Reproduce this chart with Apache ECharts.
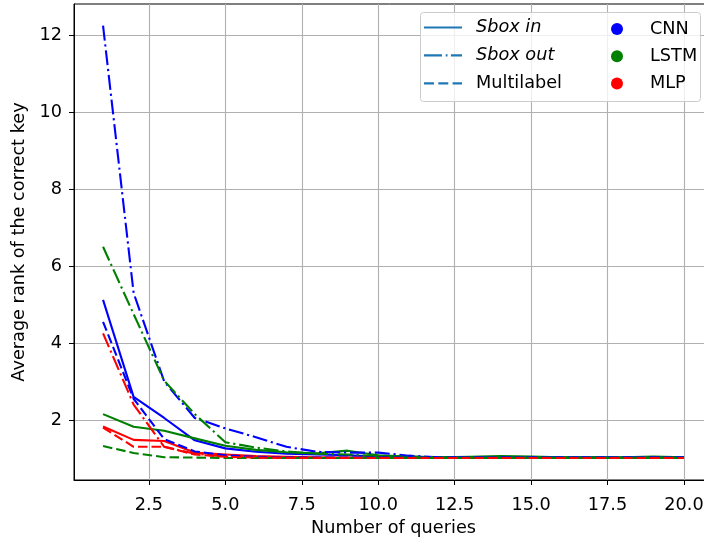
<!DOCTYPE html>
<html>
<head>
<meta charset="utf-8">
<script src="https://cdn.jsdelivr.net/npm/echarts@6/dist/echarts.min.js"></script>
<style>html,body{margin:0;padding:0;background:#fff}#c{width:704px;height:538px}</style>
</head>
<body>
<div id="c"></div>
<script>
// ---- data ----
const queries = [1,2,3,4,5,6,7,8,9,10,11,12,13,14,15,16,17,18,19,20];
const xTicks = [2.5,5,7.5,10,12.5,15,17.5,20];
const yTicks = [2,4,6,8,10,12];

const cnnSboxIn   = [5.12,2.6,2.05,1.47,1.26,1.17,1.12,1.1,1.08,1.05,1.04,1.03,1.02,1.02,1.02,1.02,1.02,1.02,1.02,1.02];
const lstmSboxIn  = [2.15,1.82,1.72,1.52,1.33,1.22,1.16,1.13,1.2,1.08,1.05,1.03,1.04,1.06,1.05,1.03,1.03,1.03,1.05,1.03];
const mlpSboxIn   = [1.83,1.48,1.45,1.15,1.1,1.06,1.04,1.03,1.02,1.02,1.01,1.01,1.01,1.01,1.01,1.01,1.01,1.01,1.01,1.01];
const cnnSboxOut  = [12.25,5.3,3.0,2.05,1.78,1.55,1.3,1.17,1.15,1.15,1.07,1.03,1.02,1.02,1.02,1.02,1.02,1.02,1.02,1.02];
const lstmSboxOut = [6.5,4.75,3.02,2.15,1.42,1.28,1.18,1.12,1.1,1.06,1.04,1.03,1.02,1.02,1.02,1.02,1.02,1.02,1.02,1.02];
const mlpSboxOut  = [4.25,2.4,1.3,1.12,1.05,1.02,1.01,1.01,1.01,1.01,1.01,1.01,1.01,1.01,1.01,1.01,1.01,1.01,1.01,1.01];
const cnnMulti    = [4.55,2.55,1.5,1.18,1.08,1.04,1.02,1.02,1.02,1.02,1.02,1.02,1.02,1.02,1.02,1.02,1.02,1.02,1.02,1.02];
const lstmMulti   = [1.32,1.14,1.03,1.02,1.01,1.01,1.01,1.01,1.01,1.01,1.01,1.01,1.01,1.01,1.01,1.01,1.01,1.01,1.01,1.01];
const mlpMulti    = [1.8,1.3,1.3,1.1,1.04,1.02,1.01,1.01,1.01,1.01,1.01,1.01,1.01,1.01,1.01,1.01,1.01,1.01,1.01,1.01];

const styleNames = ['Sbox in','Sbox out','Multilabel'];
const modelNames = ['CNN','LSTM','MLP'];

// ---- styles ----
const FONT = 'DejaVu Sans';
const FS = 17.7;
const colors = {CNN:'#0000ff', LSTM:'#008000', MLP:'#ff0000'};
const dash = {'Sbox in':'solid','Sbox out':[15,3.8,2.2,3.8],'Multilabel':[9.5,4]};
const legendIcons = {
  'Sbox in':'path://M0,0H38V2.2H0Z',
  'Sbox out':'path://M0,0H18V2.2H0Z M21.7,0H23.5V2.2H21.7Z M26.9,0H38V2.2H26.9Z',
  'Multilabel':'path://M0,0H10V2.2H0Z M14.3,0H24.3V2.2H14.3Z M28.6,0H38V2.2H28.6Z'
};
const LW = 2.1;

function pairs(arr){ return queries.map((q,i)=>[q,arr[i]]); }
const dataMap = {
  'Sbox in':{CNN:cnnSboxIn,LSTM:lstmSboxIn,MLP:mlpSboxIn},
  'Sbox out':{CNN:cnnSboxOut,LSTM:lstmSboxOut,MLP:mlpSboxOut},
  'Multilabel':{CNN:cnnMulti,LSTM:lstmMulti,MLP:mlpMulti}
};

const series = [];
styleNames.forEach(s=>{
  modelNames.forEach(m=>{
    series.push({
      type:'line', name: m+' '+s, data: pairs(dataMap[s][m]),
      symbol:'none', silent:true, animation:false,
      lineStyle:{color:colors[m], width:LW, type:dash[s], cap:'butt', join:'round'},
      itemStyle:{color:colors[m]}
    });
  });
});
// legend-only entries
styleNames.forEach(s=>{
  series.push({type:'scatter', name:s, data:[], animation:false,
    itemStyle:{color:'#1f77b4', opacity:1}});
});
modelNames.forEach(m=>{
  series.push({type:'scatter', name:m, data:[], symbol:'circle', animation:false,
    itemStyle:{color:colors[m], opacity:1}});
});

const chart = echarts.init(document.getElementById('c'), null, {renderer:'canvas'});
chart.setOption({
  animation:false,
  backgroundColor:'#fff',
  textStyle:{fontFamily:FONT},
  grid:{left:74, right:-9, top:4, bottom:58, outerBoundsMode:'none', containLabel:false,
    show:true, borderColor:'#000', borderWidth:1, backgroundColor:'transparent'},
  xAxis:{
    type:'value', min:0.05, max:20.95,
    name:'Number of queries', nameLocation:'middle', nameGap:36,
    nameTextStyle:{fontFamily:FONT, fontSize:FS, color:'#000'},
    axisLine:{show:true, lineStyle:{color:'#000', width:1}},
    axisTick:{show:true, customValues:xTicks, length:5, lineStyle:{color:'#000'}},
    axisLabel:{customValues:xTicks, fontFamily:FONT, fontSize:FS, color:'#000', margin:16,
      formatter:v=>Number(v).toFixed(1)},
    splitLine:{show:true, lineStyle:{color:'#b0b0b0', width:1.1}}
  },
  yAxis:{
    type:'value', min:0.4375, max:12.8125,
    name:'Average rank of the correct key', nameLocation:'middle', nameGap:31,
    nameTextStyle:{fontFamily:FONT, fontSize:FS, color:'#000'},
    axisLine:{show:true, lineStyle:{color:'#000', width:1}},
    axisTick:{show:true, customValues:yTicks, length:5, lineStyle:{color:'#000'}},
    axisLabel:{customValues:yTicks, fontFamily:FONT, fontSize:FS, color:'#000', margin:12,
      formatter:v=>String(Math.round(v))},
    splitLine:{show:true, lineStyle:{color:'#b0b0b0', width:1.1}}
  },
  graphic:[{
    type:'rect', z:100, silent:true,
    shape:{x:420.5, y:12.5, width:280, height:89, r:3},
    style:{fill:'rgba(255,255,255,0.8)', stroke:'#cccccc', lineWidth:1}
  }],
  legend:[{
    orient:'vertical', left:424, top:18.5, itemWidth:38, itemHeight:2.2, itemGap:9.9,
    z:200, selectedMode:false, padding:0,
    textStyle:{fontFamily:FONT, fontSize:FS, color:'#000', lineHeight:17, padding:[0,0,0,9]},
    data:styleNames.map(s=>({name:s, icon:legendIcons[s],
      textStyle: s==='Multilabel' ? {} : {fontStyle:'italic'}}))
  },{
    orient:'vertical', left:611, top:20, itemWidth:12, itemHeight:12, itemGap:9.3,
    z:200, selectedMode:false, padding:0,
    textStyle:{fontFamily:FONT, fontSize:FS, color:'#000', lineHeight:17, padding:[0,0,0,22]},
    data:modelNames.map(m=>({name:m, icon:'circle'}))
  }],
  series:series
});
</script>
</body>
</html>
